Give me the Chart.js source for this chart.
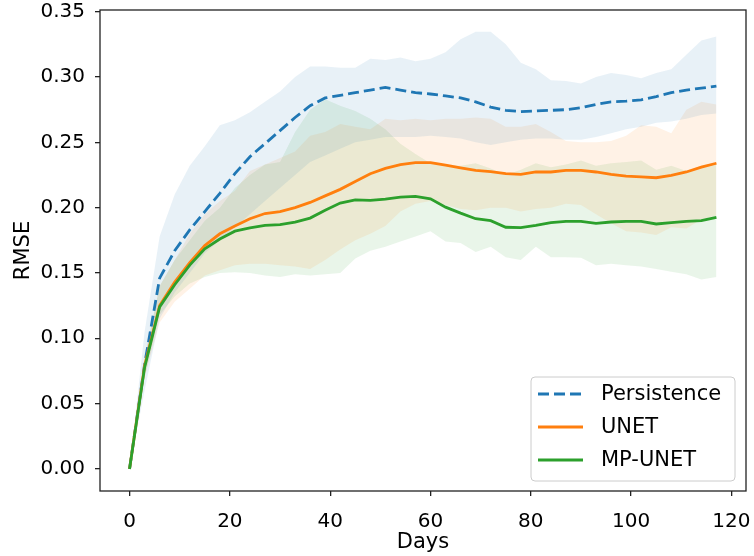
<!DOCTYPE html>
<html><head><meta charset="utf-8">
<script src="https://cdn.jsdelivr.net/npm/chart.js@4.4.1/dist/chart.umd.min.js"></script>
<style>html,body{margin:0;padding:0;background:#fff;}</style>
</head><body>
<canvas id="c" width="754" height="556"></canvas>
<script>
const days = [0,3,6,9,12,15,18,21,24,27,30,33,36,39,42,45,48,51,54,57,60,63,66,69,72,75,78,81,84,87,90,93,96,99,102,105,108,111,114,117];

const persistenceMean  = [0,0.080,0.146,0.167,0.183,0.197,0.211,0.226,0.239,0.249,0.259,0.269,0.278,0.284,0.286,0.288,0.290,0.292,0.290,0.288,0.287,0.2855,0.284,0.281,0.277,0.2745,0.2735,0.274,0.2745,0.275,0.2765,0.279,0.281,0.2815,0.2825,0.285,0.288,0.290,0.2915,0.293];
const persistenceUpper = [0,0.105,0.178,0.210,0.232,0.247,0.263,0.267,0.273,0.281,0.289,0.300,0.308,0.308,0.307,0.307,0.314,0.313,0.315,0.312,0.314,0.319,0.329,0.3346,0.3346,0.325,0.311,0.306,0.2975,0.297,0.295,0.300,0.303,0.3015,0.299,0.303,0.306,0.317,0.328,0.331];
const persistenceLower = [0,0.060,0.115,0.135,0.150,0.165,0.175,0.185,0.195,0.205,0.215,0.225,0.235,0.240,0.245,0.250,0.252,0.254,0.254,0.254,0.255,0.254,0.253,0.250,0.248,0.250,0.252,0.253,0.253,0.252,0.252,0.254,0.257,0.260,0.262,0.265,0.266,0.268,0.271,0.272];

const unetMean  = [0,0.079,0.125,0.143,0.158,0.171,0.180,0.186,0.1915,0.1955,0.197,0.200,0.204,0.209,0.214,0.220,0.226,0.230,0.233,0.2345,0.2345,0.2325,0.2305,0.2285,0.2275,0.226,0.2255,0.2273,0.2273,0.2285,0.2285,0.2273,0.2255,0.2242,0.2235,0.2229,0.2247,0.2273,0.231,0.234];
const unetUpper = [0,0.085,0.140,0.160,0.180,0.195,0.205,0.213,0.228,0.233,0.238,0.243,0.255,0.258,0.264,0.262,0.260,0.268,0.267,0.268,0.267,0.268,0.268,0.269,0.268,0.262,0.262,0.264,0.258,0.251,0.250,0.250,0.251,0.255,0.263,0.262,0.257,0.275,0.281,0.279];
const unetLower = [0,0.070,0.112,0.128,0.138,0.148,0.152,0.156,0.157,0.157,0.156,0.155,0.153,0.160,0.168,0.175,0.180,0.186,0.197,0.203,0.205,0.202,0.199,0.198,0.200,0.200,0.197,0.199,0.200,0.203,0.202,0.195,0.188,0.182,0.181,0.179,0.185,0.184,0.191,0.194];

const mpunetMean  = [0,0.0777,0.124,0.141,0.156,0.1685,0.176,0.182,0.1846,0.1864,0.187,0.189,0.192,0.198,0.2035,0.206,0.2055,0.2066,0.208,0.2086,0.2068,0.2004,0.1958,0.1915,0.190,0.185,0.1847,0.1864,0.1885,0.1895,0.1895,0.188,0.189,0.1895,0.1895,0.1875,0.1886,0.1895,0.190,0.1926];
const mpunetUpper = [0,0.085,0.140,0.160,0.175,0.190,0.200,0.215,0.225,0.233,0.235,0.258,0.275,0.283,0.278,0.274,0.268,0.260,0.249,0.241,0.234,0.232,0.232,0.234,0.230,0.225,0.229,0.234,0.231,0.233,0.236,0.232,0.234,0.235,0.236,0.229,0.232,0.228,0.232,0.234];
const mpunetLower = [0,0.070,0.118,0.132,0.142,0.147,0.150,0.1505,0.150,0.148,0.147,0.149,0.148,0.149,0.150,0.161,0.167,0.170,0.174,0.178,0.182,0.174,0.173,0.166,0.170,0.162,0.160,0.170,0.162,0.162,0.1616,0.156,0.157,0.156,0.155,0.153,0.151,0.149,0.145,0.147];

const seriesNames = ['Persistence', 'UNET', 'MP-UNET'];
const seriesColors = ['#1f77b4', '#ff7f0e', '#2ca02c'];
const bandColors = ['rgba(31,119,180,0.1)', 'rgba(255,127,14,0.1)', 'rgba(44,160,44,0.1)'];
const xTicks = [0, 20, 40, 60, 80, 100, 120];
const yTicks = [0, 0.05, 0.10, 0.15, 0.20, 0.25, 0.30, 0.35];
const xLabel = 'Days';
const yLabel = 'RMSE';

const pts = arr => days.map((d, i) => ({x: d, y: arr[i]}));
const means = [persistenceMean, unetMean, mpunetMean];
const uppers = [persistenceUpper, unetUpper, mpunetUpper];
const lowers = [persistenceLower, unetLower, mpunetLower];

const datasets = [];
means.forEach((m, i) => {
  datasets.push({
    label: seriesNames[i], data: pts(m), borderColor: seriesColors[i],
    borderWidth: 2.8, borderDash: i === 0 ? [11, 5] : [], pointRadius: 0,
    fill: false, tension: 0, order: 2 - i, isMain: true
  });
});
means.forEach((m, i) => {
  datasets.push({
    label: '', data: pts(uppers[i]), borderWidth: 0, borderColor: 'rgba(0,0,0,0)',
    pointRadius: 0, fill: '+1', backgroundColor: bandColors[i], order: 10 + i
  });
  datasets.push({
    label: '', data: pts(lowers[i]), borderWidth: 0, borderColor: 'rgba(0,0,0,0)',
    pointRadius: 0, fill: false, order: 10 + i
  });
});

const FONT = "'DejaVu Sans', sans-serif";

const framePlugin = {
  id: 'frame',
  afterDatasetsDraw(chart) {
    const {ctx, chartArea: a} = chart;
    ctx.save();
    ctx.strokeStyle = '#222';
    ctx.lineWidth = 1.3;
    ctx.strokeRect(a.left, a.top, a.right - a.left, a.bottom - a.top);
    ctx.restore();
  }
};

const legendPlugin = {
  id: 'mplLegend',
  afterDraw(chart) {
    const {ctx, chartArea: a} = chart;
    const w = 204, h = 104;
    const x = a.right - 11 - w, y = a.bottom - 10 - h;
    ctx.save();
    ctx.beginPath();
    if (ctx.roundRect) ctx.roundRect(x, y, w, h, 4); else ctx.rect(x, y, w, h);
    ctx.fillStyle = 'rgba(255,255,255,0.8)';
    ctx.fill();
    ctx.strokeStyle = '#cccccc';
    ctx.lineWidth = 1;
    ctx.stroke();
    const main = chart.data.datasets.filter(d => d.isMain);
    main.forEach((d, i) => {
      const cy = y + 17 + i * 33;
      ctx.beginPath();
      ctx.setLineDash(d.borderDash || []);
      ctx.strokeStyle = d.borderColor;
      ctx.lineWidth = d.borderWidth;
      ctx.moveTo(x + 7, cy);
      ctx.lineTo(x + 52, cy);
      ctx.stroke();
      ctx.setLineDash([]);
      ctx.fillStyle = '#000';
      ctx.font = "21px " + FONT;
      ctx.textBaseline = 'middle';
      ctx.textAlign = 'left';
      ctx.fillText(d.label, x + 70, cy + 1);
    });
    ctx.restore();
  }
};

new Chart(document.getElementById('c'), {
  type: 'line',
  data: {datasets},
  options: {
    responsive: false, animation: false, devicePixelRatio: 1,
    layout: {padding: {top: 10, right: 8, left: 0, bottom: 0}},
    plugins: {legend: {display: false}, tooltip: {enabled: false}, filler: {propagate: false}},
    scales: {
      x: {
        type: 'linear', min: -5.89, max: 122.9,
        afterBuildTicks: s => { s.ticks = xTicks.map(v => ({value: v})); },
        afterFit: s => { s.height = 65; s.paddingLeft = 0; s.paddingRight = 0; },
        ticks: {font: {family: FONT, size: 20}, color: '#000', padding: 14, maxRotation: 0, callback: v => String(v)},
        grid: {display: true, drawOnChartArea: false, drawTicks: true, tickLength: 5, color: '#222', lineWidth: 1.3},
        border: {display: false},
        title: {display: true, text: xLabel, font: {family: FONT, size: 21}, color: '#000', padding: {top: 0, bottom: 1}}
      },
      y: {
        type: 'linear', min: -0.0169, max: 0.3513,
        afterBuildTicks: s => { s.ticks = yTicks.map(v => ({value: v})); },
        afterFit: s => { s.width = 100; s.paddingTop = 0; s.paddingBottom = 0; },
        ticks: {font: {family: FONT, size: 20}, color: '#000', padding: 10, callback: v => Number(v).toFixed(2)},
        grid: {display: true, drawOnChartArea: false, drawTicks: true, tickLength: 5, color: '#222', lineWidth: 1.3},
        border: {display: false},
        title: {display: true, text: yLabel, font: {family: FONT, size: 21}, color: '#000', padding: {top: 11, bottom: 0}}
      }
    }
  },
  plugins: [framePlugin, legendPlugin]
});
</script>
</body></html>
